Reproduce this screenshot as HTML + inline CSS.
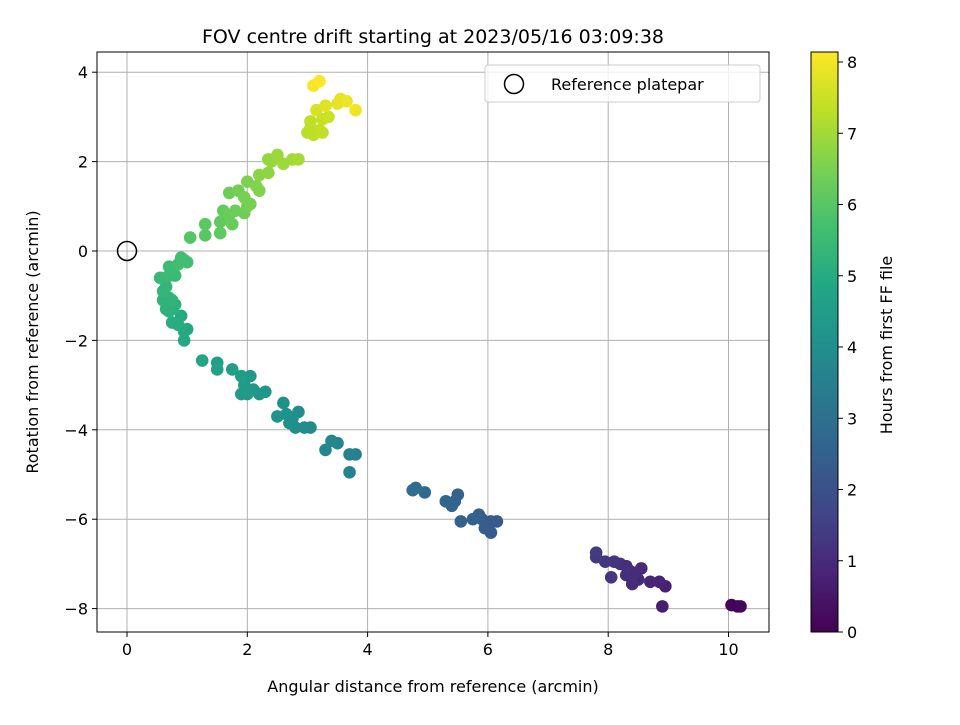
<!DOCTYPE html>
<html><head><meta charset="utf-8"><style>
body{margin:0;background:#fff;font-family:"Liberation Sans","DejaVu Sans",sans-serif;overflow:hidden;}
svg text{font-family:"DejaVu Sans","Liberation Sans",sans-serif;}
</style></head><body>
<svg id="chart" width="960" height="720" xmlns="http://www.w3.org/2000/svg">
<defs><linearGradient id="vir" x1="0" y1="1" x2="0" y2="0"></linearGradient></defs>
<rect width="960" height="720" fill="#fff"/>
<g id="grid"></g>
<g id="pts"></g>
<circle cx="127" cy="251" r="9.5" fill="none" stroke="#000" stroke-width="1.5"/>
<rect x="97" y="52" width="672" height="580" fill="none" stroke="#000" stroke-width="1"/>
<g id="axes"></g>
<text x="433" y="43" font-size="19" text-anchor="middle">FOV centre drift starting at 2023/05/16 03:09:38</text>
<text x="433" y="692" font-size="16" text-anchor="middle">Angular distance from reference (arcmin)</text>
<text x="38" y="342" font-size="16" text-anchor="middle" transform="rotate(-90 38 342)">Rotation from reference (arcmin)</text>
<g>
<rect x="485" y="65" width="275" height="37" rx="3" fill="#fff" fill-opacity="0.8" stroke="#ccc"/>
<circle cx="514" cy="84" r="9.5" fill="none" stroke="#000" stroke-width="1.5"/>
<text x="551" y="90" font-size="16">Reference platepar</text>
</g>
<rect x="811" y="52" width="27" height="580" fill="url(#vir)" stroke="#000" stroke-width="1"/>
<g id="cbax"></g>
<text x="892" y="345" font-size="16" text-anchor="middle" transform="rotate(-90 892 345)">Hours from first FF file</text>
</svg>
<script>
const xs=[10.05,10.15,10.2,8.9,8.95,8.85,8.7,8.5,8.55,8.4,8.3,8.35,8.2,8.1,8.05,7.95,7.8,7.8,8.45,8.3,
6.15,6.05,6.05,5.95,5.9,5.85,5.75,5.55,5.5,5.45,5.4,5.3,4.95,4.8,4.75,
3.8,3.7,3.7,3.5,3.4,3.3,3.05,2.95,2.85,2.8,2.75,2.7,2.65,2.6,2.5,2.3,2.2,2.1,2.05,2.0,1.95,1.9,1.9,1.75,1.5,1.5,1.25,
0.95,0.95,1.0,0.9,0.85,0.75,0.8,0.75,0.7,0.65,0.6,0.7,0.75,0.6,0.65,0.65,0.55,0.7,0.8,0.75,0.7,0.85,0.9,0.95,1.0,
1.05,1.3,1.3,1.55,1.55,1.6,1.7,1.75,1.8,1.7,1.85,1.95,2.0,2.05,1.95,2.0,2.15,2.2,2.2,2.35,2.35,2.4,2.5,2.6,2.75,2.85,
3.0,3.05,3.1,3.05,3.2,3.25,3.25,3.35,3.15,3.3,3.5,3.55,3.65,3.8,3.1,3.2];
const ys=[-7.92,-7.95,-7.95,-7.95,-7.5,-7.4,-7.4,-7.35,-7.1,-7.45,-7.25,-7.15,-7.0,-6.95,-7.3,-6.95,-6.85,-6.75,-7.2,-7.05,
-6.05,-6.05,-6.3,-6.2,-6.0,-5.9,-6.0,-6.05,-5.45,-5.6,-5.7,-5.6,-5.4,-5.3,-5.35,
-4.55,-4.55,-4.95,-4.3,-4.25,-4.45,-3.95,-3.95,-3.6,-3.95,-3.75,-3.85,-3.65,-3.4,-3.7,-3.15,-3.2,-3.1,-2.8,-3.2,-3.0,-3.2,-2.8,-2.65,-2.5,-2.65,-2.45,
-2.0,-1.8,-1.75,-1.45,-1.65,-1.6,-1.2,-1.3,-1.35,-1.3,-1.1,-1.05,-1.1,-0.9,-0.8,-0.6,-0.6,-0.55,-0.55,-0.4,-0.35,-0.3,-0.15,-0.2,-0.25,
0.3,0.35,0.6,0.4,0.65,0.9,0.8,0.6,0.9,1.3,1.35,0.85,1.0,1.05,1.2,1.55,1.45,1.35,1.7,1.75,2.05,2.0,2.15,1.95,2.05,2.05,
2.65,2.75,2.6,2.9,2.7,2.65,2.95,3.0,3.15,3.25,3.3,3.4,3.35,3.15,3.7,3.8];
const hours=[0.1,0.05,0.15,0.7,0.75,0.8,0.85,0.9,0.95,1.0,1.05,1.1,1.15,1.2,1.25,1.3,1.35,1.4,1.0,1.1,
2.2,2.25,2.3,2.35,2.4,2.45,2.5,2.5,2.55,2.6,2.6,2.65,2.8,2.85,2.9,
3.5,3.55,3.6,3.65,3.7,3.7,3.85,3.9,3.95,3.95,4.0,4.0,4.05,4.05,4.1,4.2,4.25,4.3,4.3,4.35,4.4,4.4,4.45,4.5,4.55,4.6,4.7,
4.85,4.9,4.9,4.95,5.0,5.0,5.1,5.1,5.15,5.15,5.2,5.2,5.25,5.3,5.3,5.4,5.4,5.45,5.45,5.5,5.5,5.55,5.6,5.6,5.6,
5.9,5.95,6.0,6.05,6.1,6.15,6.2,6.2,6.25,6.3,6.35,6.3,6.35,6.4,6.4,6.5,6.55,6.55,6.65,6.7,6.75,6.8,6.85,6.9,6.95,7.0,
7.2,7.25,7.25,7.3,7.3,7.35,7.4,7.45,7.6,7.7,7.75,7.8,7.85,7.9,8.0,8.05];
const xTicks=[0,2,4,6,8,10];
const yTicks=[4,2,0,-2,-4,-6,-8];
const cTicks=[0,1,2,3,4,5,6,7,8];
const X=v=>127+v*60.15, Y=v=>251-v*44.7, C=v=>632-v*71.25;
const vir=[[68,1,84],[72,36,117],[65,68,135],[53,95,141],[42,120,142],[33,145,140],[34,168,132],[68,191,112],[122,209,81],[189,223,38],[253,231,37]];
function col(h){let t=Math.max(0,Math.min(1,h/8.08))*10,i=Math.min(9,Math.floor(t)),f=t-i;const a=vir[i],b=vir[i+1];return 'rgb('+a.map((v,k)=>Math.round(v+(b[k]-v)*f)).join(',')+')';}
const NS='http://www.w3.org/2000/svg';
function mk(p,tag,at){const e=document.createElementNS(NS,tag);for(const k in at)e.setAttribute(k,at[k]);p.appendChild(e);return e;}
const g=document.getElementById('grid'),ax=document.getElementById('axes'),pts=document.getElementById('pts'),cb=document.getElementById('cbax');
const grad=document.getElementById('vir');
vir.forEach((c,i)=>mk(grad,'stop',{offset:(i*10)+'%','stop-color':'rgb('+c.join(',')+')'}));
xTicks.forEach(v=>{const x=X(v);
const l=mk(g,'line',{x1:x,x2:x,y1:52,y2:632,stroke:'#b0b0b0','stroke-width':1});


mk(ax,'line',{x1:x,x2:x,y1:632,y2:637,stroke:'#000'});
const t=mk(ax,'text',{x:x,y:655,'font-size':16,'text-anchor':'middle'});t.textContent=String(v).replace('-','−');

});
yTicks.forEach(v=>{const y=Y(v);
const l=mk(g,'line',{x1:97,x2:769,y1:y,y2:y,stroke:'#b0b0b0','stroke-width':1});


mk(ax,'line',{x1:92,x2:97,y1:y,y2:y,stroke:'#000'});
const t=mk(ax,'text',{x:88,y:y+6,'font-size':16,'text-anchor':'end'});t.textContent=String(v).replace('-','−');

});
cTicks.forEach(v=>{const y=C(v);
mk(cb,'line',{x1:838,x2:843,y1:y,y2:y,stroke:'#000'});
const t=mk(cb,'text',{x:847,y:y+6,'font-size':16});t.textContent=v;

});
xs.forEach((x,i)=>{const c=mk(pts,'circle',{cx:X(x),cy:Y(ys[i]),r:6.3,fill:col(hours[i])});

});
</script>
</body></html>
